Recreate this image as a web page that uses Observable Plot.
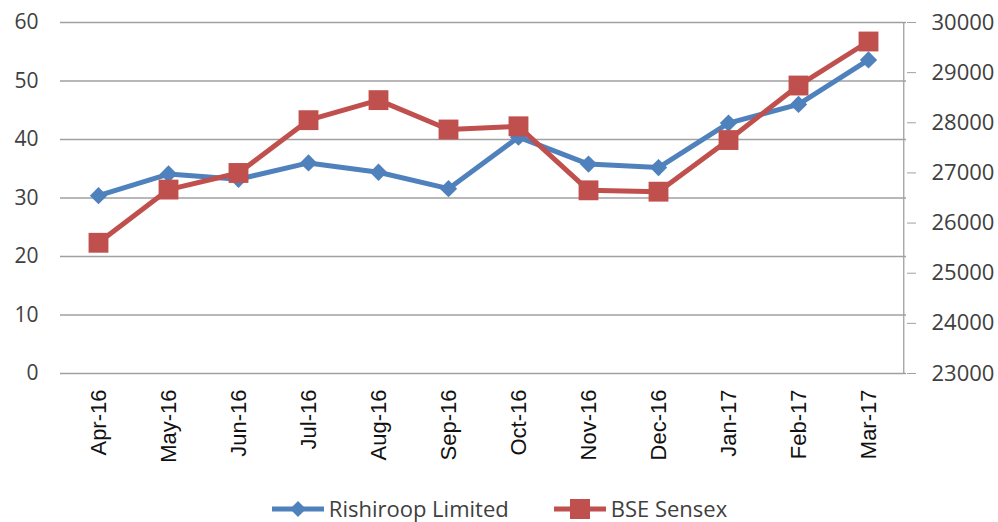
<!DOCTYPE html>
<html>
<head>
<meta charset="utf-8">
<script src="https://cdn.jsdelivr.net/npm/d3@7"></script>
<script src="https://cdn.jsdelivr.net/npm/@observablehq/plot@0.6"></script>
<style>
  html, body { margin: 0; padding: 0; background: #fff; overflow: hidden; }
  #chart { width: 998px; }
  #chart > svg { display: block; }
  .legend { display: flex; justify-content: center; align-items: center; height: 27px; padding-top: 20px; font-family: "Open Sans", sans-serif; font-size: 22px; line-height: 27px; color: #404040; }
  .legend .item { display: flex; align-items: center; margin: 0 14px; }
  .legend svg { margin-right: 4px; }
</style>
</head>
<body>
<div id="chart"></div>
<script>
const months = ["Apr-16","May-16","Jun-16","Jul-16","Aug-16","Sep-16","Oct-16","Nov-16","Dec-16","Jan-17","Feb-17","Mar-17"];
const rishiroop = [30.4, 34.1, 33.2, 36.0, 34.4, 31.6, 40.4, 35.8, 35.2, 42.8, 46.0, 53.6];
const sensex = [25607, 26668, 26999, 28052, 28452, 27866, 27930, 26653, 26626, 27656, 28743, 29621];
const leftTicks = [0, 10, 20, 30, 40, 50, 60];
const rightTicks = [23000, 24000, 25000, 26000, 27000, 28000, 29000, 30000];
const seriesNames = ["Rishiroop Limited", "BSE Sensex"];
const colors = ["#4f81bd", "#c0504d"];

const rMin = 23000, rMax = 30000, lMax = 60;
const toLeft = v => (v - rMin) / (rMax - rMin) * lMax;
const fromLeft = v => Math.round(rMin + v / lMax * (rMax - rMin));

const dataR = months.map((m, i) => ({month: m, value: rishiroop[i]}));
const dataS = months.map((m, i) => ({month: m, value: toLeft(sensex[i])}));

const W = 998, mL = 60, mR = 92;
const halfBand = (W - mL - mR) / months.length / 2;

const chart = Plot.plot({
  width: W,
  height: 475,
  marginLeft: mL,
  marginRight: mR,
  marginTop: 22,
  marginBottom: 102,
  x: {type: "point", domain: months, padding: 0.5},
  y: {domain: [0, lMax]},
  style: {background: "#fff", color: "#404040"},
  marks: [
    Plot.gridY(leftTicks, {stroke: "#a0a0a0", strokeOpacity: 1, strokeWidth: 1.3}),
    Plot.ruleX([months[months.length - 1]], {dx: halfBand, y1: 0, y2: lMax, stroke: "#a0a0a0", strokeWidth: 1.3}),
    Plot.axisY(leftTicks, {anchor: "left", tickSize: 0, tickPadding: 22, fontSize: 21, fontFamily: "Open Sans", label: null, fill: "#404040"}),
    Plot.axisY(rightTicks.map(toLeft), {anchor: "right", tickSize: 9, tickPadding: 16, stroke: "#a0a0a0", fontSize: 22, fontFamily: "Open Sans", label: null, tickFormat: d => String(fromLeft(d)), fill: "#404040"}),
    Plot.axisX({tickSize: 0, tickRotate: -90, tickPadding: 16, fontSize: 22, fontFamily: "Liberation Sans", label: null, fill: "#111"}),
    Plot.line(dataR, {x: "month", y: "value", stroke: colors[0], strokeWidth: 5}),
    Plot.dot(dataR, {x: "month", y: "value", symbol: "diamond2", r: 7.8, fill: colors[0], stroke: "none"}),
    Plot.line(dataS, {x: "month", y: "value", stroke: colors[1], strokeWidth: 5}),
    Plot.dot(dataS, {x: "month", y: "value", symbol: "square", r: 11.2, fill: colors[1], stroke: "none"})
  ]
});
document.getElementById("chart").appendChild(chart);

const legend = document.createElement("div");
legend.className = "legend";
legend.innerHTML = `
  <div class="item"><svg width="54" height="22"><line x1="1" y1="11" x2="53" y2="11" stroke="${colors[0]}" stroke-width="5"/><path d="M27 3 L35 11 L27 19 L19 11 Z" fill="${colors[0]}"/></svg><span>${seriesNames[0]}</span></div>
  <div class="item" style="margin-left:30px"><svg width="54" height="22"><line x1="1" y1="11" x2="53" y2="11" stroke="${colors[1]}" stroke-width="5"/><rect x="17" y="1" width="20" height="20" fill="${colors[1]}"/></svg><span>${seriesNames[1]}</span></div>`;
document.getElementById("chart").appendChild(legend);
</script>
</body>
</html>
